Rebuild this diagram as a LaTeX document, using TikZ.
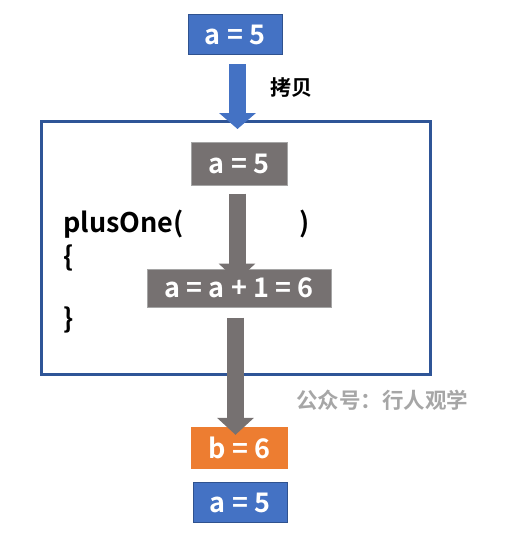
\documentclass[tikz,border=0pt]{standalone}
\usepackage{fontspec}
\setmainfont{Noto Sans CJK SC}[BoldFont={Noto Sans CJK SC Bold}]
\usepackage{tikz}
\usetikzlibrary{positioning,arrows.meta}
\definecolor{boxblue}{HTML}{4472C4}
\definecolor{edgeblue}{HTML}{2F528F}
\definecolor{frameblue}{HTML}{2F5597}
\definecolor{boxgray}{HTML}{767171}
\definecolor{edgegray}{HTML}{A5A5A5}
\definecolor{boxorange}{HTML}{ED7D31}
\definecolor{markgray}{HTML}{A6A6A6}
\tikzset{
  bluearrow/.style={-{Triangle[width=36pt,length=16pt]}, line width=17pt, draw=boxblue},
  grayarrow/.style={-{Triangle[width=36pt,length=17pt]}, line width=17pt, draw=boxgray},
  valbox/.style={text=white, font=\bfseries\fontsize{27}{30}\selectfont, inner sep=0pt, minimum height=40pt},
  bluebox/.style={valbox, fill=boxblue, draw=edgeblue, line width=1pt, minimum width=94pt},
  graybox/.style={valbox, fill=boxgray, draw=edgegray, line width=1pt, minimum height=42pt},
  orangebox/.style={valbox, fill=boxorange, minimum width=97pt, minimum height=42pt},
  codetext/.style={font=\bfseries\fontsize{27}{30}\selectfont, inner sep=0pt}
}
\begin{document}
\begin{tikzpicture}[x=1pt, y=-1pt]
  \useasboundingbox (0,0) rectangle (505,542);
  % function body
  \node[draw=frameblue, line width=3pt, minimum width=389pt, minimum height=253pt, inner sep=0pt] (frame) at (235.5,247.5) {};
  \node[bluebox] (topA) at (235,34.5) {a = 5};
  \node[graybox, minimum width=96pt, minimum height=43pt] (innerA) at (239,163.5) {a = 5};
  \node[graybox, minimum width=184pt, minimum height=38pt] (calcBox) at (239,288) {a = a + 1 = 6};
  \node[orangebox] (resB) at (239.5,448) {b = 6};
  \node[bluebox] (botA) at (240,502.5) {a = 5};
  \node[codetext, anchor=base west] (fnName) at (63,232) {plusOne(};
  \node[codetext, anchor=base west] (fnClose) at (299,232) {)};
  \node[codetext, anchor=base west] (braceOpen) at (63,266) {\{};
  \node[codetext, anchor=base west] (braceClose) at (63,328) {\}};
  % arrows
  \coordinate (copyEnd) at (237.5,129);
  \draw[bluearrow] ([xshift=2.5pt, yshift=-9pt]topA.south) -- (copyEnd);
  \node[font=\bfseries\fontsize{21}{24}\selectfont, inner sep=0pt] (copyLbl) at (291,88) {拷贝};
  \draw[grayarrow] ([xshift=-2pt, yshift=-8pt]innerA.south) -- ([xshift=-2pt, yshift=-12pt]calcBox.north);
  \draw[grayarrow] ([xshift=-3.5pt, yshift=-10pt]calcBox.south) -- ([xshift=-4pt, yshift=-8pt]resB.north);
  \node[font=\bfseries\fontsize{21.5}{24}\selectfont, text=markgray, inner sep=0pt] (mark) at (382,400) {公众号：行人观学};
\end{tikzpicture}
\end{document}
